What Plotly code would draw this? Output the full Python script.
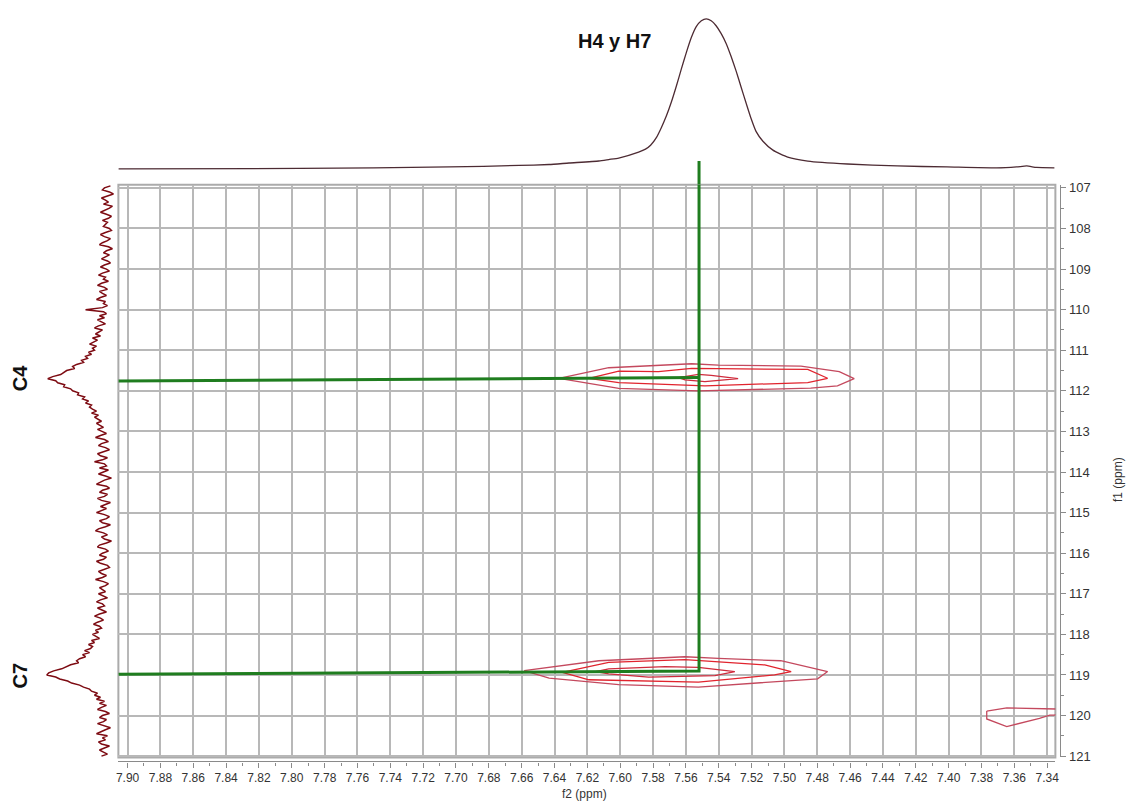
import numpy as np
import plotly.graph_objects as go

# ---------------- data ----------------
# Top (f2, 1H) projection: chemical shift (ppm) and intensity (a.u.)
top_ppm = [7.9056, 7.7948, 7.7039, 7.6615, 7.6433, 7.6312, 7.6130, 7.6070, 7.6009, 7.5888,
           7.5846, 7.5815, 7.5779, 7.5749, 7.5718, 7.5688, 7.5658, 7.5628, 7.5597, 7.5567,
           7.5537, 7.5506, 7.5476, 7.5446, 7.5416, 7.5385, 7.5355, 7.5325, 7.5294, 7.5264,
           7.5234, 7.5203, 7.5173, 7.5131, 7.5070, 7.4980, 7.4858, 7.4616, 7.4313, 7.4010,
           7.3707, 7.3586, 7.3525, 7.3465, 7.3356]
top_int = [0, 0.5, 2, 3.5, 4.5, 6, 8, 9.5, 11, 17,
           20, 24, 32, 42, 54, 68, 84, 101, 118, 133,
           144, 150, 152, 150, 145, 137, 127, 114, 99, 83,
           67, 51, 38, 28, 19, 12, 8, 5, 3, 2,
           1, 2, 3, 1.5, 1]

# Left (f1, 13C) projection: sampled every 0.05 ppm starting at 106.95 ppm
left_ppm_start = 106.95
left_ppm_step = 0.05
left_int = [
    8, 14, 16, 9, 5, 11, 17, 13, 10, 15, 6, 9, 14, 18, 12, 7, 10, 16, 11, 13,
    15, 9, 7, 13, 18, 14, 8, 11, 16, 19, 10, 6, 12, 15, 9, 13, 17, 11, 8, 14,
    18, 12, 9, 16, 20, 13, 15, 10, 17, 21, 14, 11, 19, 16, 12, 18, 22, 13, 15, 11,
    16, 33, 15, 12, 19, 14, 21, 17, 13, 20, 24, 16, 19, 23, 18, 26, 21, 25, 29, 22,
    26, 24, 30, 27, 33, 31, 37, 35, 42, 46, 44, 52, 55, 58, 66, 71, 63, 61, 54, 55,
    48, 46, 40, 41, 34, 36, 30, 33, 27, 29, 26, 22, 27, 20, 24, 21, 17, 22, 19, 15,
    21, 16, 12, 18, 23, 14, 10, 17, 20, 13, 9, 15, 21, 18, 11, 16, 24, 14, 12, 19,
    10, 15, 20, 13, 7, 14, 18, 22, 12, 9, 16, 19, 11, 14, 21, 17, 8, 13, 18, 12,
    17, 22, 14, 9, 12, 19, 16, 8, 13, 20, 23, 15, 11, 17, 14, 7, 12, 19, 21, 13,
    10, 16, 19, 12, 15, 22, 18, 11, 9, 14, 20, 17, 12, 16, 23, 15, 10, 13, 19, 16,
    13, 20, 15, 11, 18, 22, 16, 14, 21, 17, 12, 19, 24, 18, 15, 21, 25, 19, 17, 23,
    20, 26, 22, 19, 27, 24, 30, 26, 28, 34, 29, 36, 33, 39, 42, 40, 48, 53, 57, 65,
    70, 72, 63, 59, 51, 47, 39, 35, 29, 27, 21, 24, 18, 22, 14, 19, 12, 17, 21, 13,
    9, 16, 19, 12, 15, 21, 14, 8, 13, 18, 22, 11, 16, 13, 20, 17, 9, 14, 19, 15,
    11, 17]

# HSQC contour polygons (f2 ppm, f1 ppm), three levels per cross peak
c4_outer_x = [7.6373, 7.6070, 7.5565, 7.5403, 7.4899, 7.4666, 7.4575, 7.4677, 7.4840, 7.5524, 7.6009, 7.6211, 7.6373]
c4_outer_y = [111.691, 111.431, 111.333, 111.367, 111.392, 111.528, 111.698, 111.878, 111.934, 112.000, 111.942, 111.796, 111.691]
c4_mid_x = [7.6191, 7.6009, 7.5767, 7.5565, 7.5403, 7.4858, 7.4737, 7.4858, 7.5484, 7.6009, 7.6191]
c4_mid_y = [111.691, 111.513, 111.528, 111.448, 111.455, 111.472, 111.691, 111.796, 111.878, 111.796, 111.691]
c4_in_x = [7.5646, 7.5524, 7.5446, 7.5282, 7.5484, 7.5605, 7.5646]
c4_in_y = [111.674, 111.594, 111.618, 111.698, 111.771, 111.732, 111.674]

c7_outer_x = [7.6585, 7.6130, 7.5605, 7.5403, 7.5022, 7.4737, 7.4798, 7.5524, 7.6009, 7.6433, 7.6585]
c7_outer_y = [118.893, 118.650, 118.552, 118.594, 118.650, 118.917, 119.095, 119.299, 119.241, 119.080, 118.893]
c7_mid_x = [7.6353, 7.6070, 7.5605, 7.5403, 7.5120, 7.4959, 7.5060, 7.5524, 7.6191, 7.6271, 7.6353]
c7_mid_y = [118.934, 118.691, 118.625, 118.674, 118.754, 118.917, 118.998, 119.178, 119.119, 119.032, 118.934]
c7_in_x = [7.6150, 7.6070, 7.5726, 7.5524, 7.5302, 7.5423, 7.5827, 7.6070, 7.6150]
c7_in_y = [118.920, 118.852, 118.796, 118.813, 118.917, 119.015, 119.056, 118.973, 118.920]

small_x = [7.3768, 7.3646, 7.3314, 7.3314, 7.3356, 7.3384, 7.3447, 7.3585, 7.3646, 7.3768, 7.3768]
small_y = [119.891, 119.810, 119.842, 119.950, 119.988, 119.988, 120.068, 120.214, 120.272, 120.085, 119.891]

# Correlation guide lines (cross-peak assignments)
guide_h = 7.552                      # f2 of H4 / H7
guide_c4_y = [111.757, 111.672]      # f1 of C4 (left end, right end)
guide_c7_y = [118.983, 118.905]      # f1 of C7 (left end, right end)

# axes
x_range = [7.9056, 7.3350]
y_range = [121.034, 106.922]

# ---------------- figure ----------------
W, H = 1130, 803
def px(x):
    return x / W
def py(y):
    return 1 - y / H

xdom = [px(117), px(1059)]
ydom = [py(763), py(183)]

GREEN = "#1f7d1f"
GRID = "#b8b8b8"
FONT = "Liberation Sans Narrow, Liberation Sans, Arial, sans-serif"

fig = go.Figure()

# top projection
fig.add_trace(go.Scatter(x=top_ppm, y=top_int, mode="lines", line=dict(color="#4d2b33", width=1.3, shape="spline", smoothing=0.5),
                         xaxis="x2", yaxis="y2", hoverinfo="skip"))
fig.add_trace(go.Scatter(x=[guide_h, guide_h], y=[-16, 8], mode="lines", line=dict(color=GREEN, width=3),
                         xaxis="x2", yaxis="y2", hoverinfo="skip"))

# left projection
left_ppm = np.round(left_ppm_start + left_ppm_step * np.arange(len(left_int)), 3)
fig.add_trace(go.Scatter(x=left_int, y=left_ppm, mode="lines", line=dict(color="#7d0b12", width=1.5),
                         xaxis="x3", yaxis="y3", hoverinfo="skip"))

# contours
OUT_C = "#c4495e"
MID_C = "#e1242e"
IN_C = "#cf2b3c"
for xs, ys, c in [(c4_outer_x, c4_outer_y, OUT_C), (c4_mid_x, c4_mid_y, MID_C), (c4_in_x, c4_in_y, IN_C),
                  (c7_outer_x, c7_outer_y, OUT_C), (c7_mid_x, c7_mid_y, MID_C), (c7_in_x, c7_in_y, IN_C),
                  (small_x, small_y, OUT_C)]:
    fig.add_trace(go.Scatter(x=xs, y=ys, mode="lines", line=dict(color=c, width=1.3),
                             xaxis="x", yaxis="y", hoverinfo="skip"))

# green guide lines
fig.add_trace(go.Scatter(x=[x_range[0], guide_h], y=guide_c4_y, mode="lines", line=dict(color=GREEN, width=3),
                         xaxis="x", yaxis="y", hoverinfo="skip"))
fig.add_trace(go.Scatter(x=[x_range[0], guide_h, guide_h], y=[guide_c7_y[0], guide_c7_y[1], y_range[1]], mode="lines",
                         line=dict(color=GREEN, width=3), xaxis="x", yaxis="y", hoverinfo="skip"))

fig.update_layout(
    width=W, height=H,
    margin=dict(l=0, r=0, t=0, b=0),
    paper_bgcolor="white", plot_bgcolor="white",
    showlegend=False,
    xaxis=dict(domain=xdom, range=x_range, anchor="free", position=py(767),
               showgrid=True, gridcolor=GRID, gridwidth=2, zeroline=False,
               showline=True, linecolor="#8a8a8a", linewidth=1.2,
               tick0=7.90, dtick=0.02, tickformat=".2f", ticks="outside", ticklen=5, tickwidth=1.2, tickcolor="#8a8a8a",
               minor=dict(dtick=0.01, tick0=7.90, ticks="outside", ticklen=3, tickcolor="#8a8a8a", showgrid=False),
               tickfont=dict(family=FONT, size=12, color="#333333")),
    yaxis=dict(domain=ydom, range=y_range, anchor="free", position=px(1064), side="right",
               showgrid=True, gridcolor=GRID, gridwidth=2, zeroline=False,
               showline=True, linecolor="#8a8a8a", linewidth=1.2,
               tick0=107, dtick=1, ticks="outside", ticklen=5, tickwidth=1.2, tickcolor="#8a8a8a",
               minor=dict(dtick=0.5, tick0=107, ticks="outside", ticklen=3, tickcolor="#8a8a8a", showgrid=False),
               tickfont=dict(family=FONT, size=13, color="#333333")),
    xaxis2=dict(domain=xdom, range=x_range, matches="x", anchor="y2", visible=False),
    yaxis2=dict(domain=[ydom[1], 1.0], range=[-16, 167], anchor="x2", visible=False),
    xaxis3=dict(domain=[0, xdom[0]], range=[117, 0], anchor="y3", visible=False),
    yaxis3=dict(domain=ydom, range=y_range, matches="y", anchor="x3", visible=False),
    shapes=[dict(type="rect", xref="paper", yref="paper", x0=xdom[0], x1=xdom[1], y0=ydom[0], y1=ydom[1],
                 line=dict(color="#ababab", width=2), layer="between")],
    annotations=[
        dict(text="<b>H4 y H7</b>", x=px(616), y=py(37), xref="paper", yref="paper", showarrow=False,
             font=dict(family="Liberation Sans, Arial, sans-serif", size=20, color="#111111"), xanchor="center", yanchor="middle"),
        dict(text="<b>C4</b>", x=px(18), y=py(379), xref="paper", yref="paper", showarrow=False, textangle=-90,
             font=dict(family="Liberation Sans, Arial, sans-serif", size=20, color="#111111"), xanchor="center", yanchor="middle"),
        dict(text="<b>C7</b>", x=px(18), y=py(680), xref="paper", yref="paper", showarrow=False, textangle=-90,
             font=dict(family="Liberation Sans, Arial, sans-serif", size=20, color="#111111"), xanchor="center", yanchor="middle"),
        dict(text="f2 (ppm)", x=px(586), y=0.0, xref="paper", yref="paper", showarrow=False, borderpad=0,
             font=dict(family=FONT, size=12, color="#333333"), xanchor="center", yanchor="bottom", yshift=-5),
        dict(text="f1 (ppm)", x=px(1122), y=py(482), xref="paper", yref="paper", showarrow=False, textangle=-90,
             font=dict(family=FONT, size=12, color="#333333"), xanchor="center", yanchor="middle"),
    ],
)

fig.write_html("out.html")
